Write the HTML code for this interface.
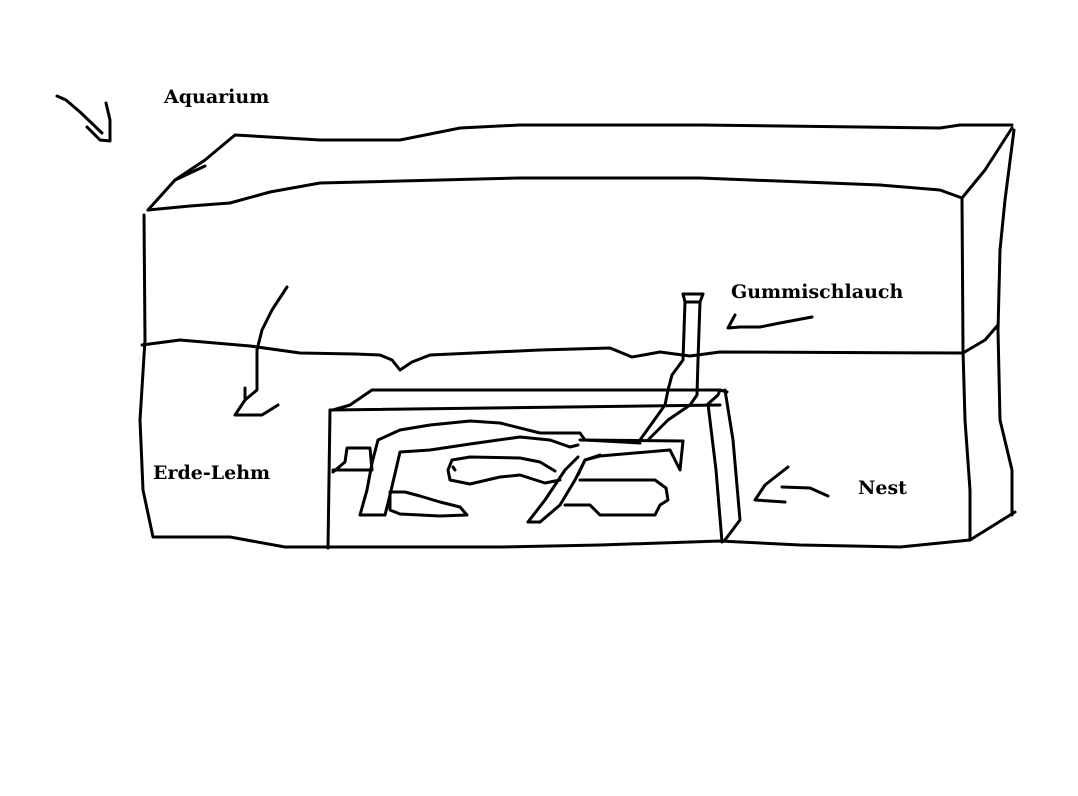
<!DOCTYPE html>
<html><head><meta charset="utf-8"><style>
html,body{margin:0;padding:0;background:#fff;}
svg{display:block}
text{font-family:"DejaVu Serif","Liberation Serif",serif;font-weight:bold;font-size:19px;fill:#000}
</style></head><body>
<svg width="1078" height="796" viewBox="0 0 1078 796" fill="none" stroke="#000" stroke-width="3" stroke-linecap="round" stroke-linejoin="round">
<rect x="0" y="0" width="1078" height="796" fill="#fff" stroke="none"/>
<text x="164" y="103" stroke="none">Aquarium</text>
<text x="731" y="298" stroke="none">Gummischlauch</text>
<text x="153" y="479" stroke="none">Erde-Lehm</text>
<text x="858" y="494" stroke="none">Nest</text>
<!-- top-left arrow -->
<polyline points="57,96 66,100 80,112 102,133"/>
<polyline points="87,127 100,140 110,141 110,120 106,103"/>
<!-- tank -->
<polyline points="148,210 190,206 230,203 270,192 320,183 520,178 700,178 880,185 940,190 962,198"/>
<polyline points="148,210 175,180 205,160 235,135 320,140 400,140 460,128 520,125 700,125 940,128 960,125 1012,125"/>
<polyline points="175,180 205,166"/>
<polyline points="962,198 985,170 1012,128"/>
<polyline points="1014,130 1005,200 1000,250 998,330 1000,420 1012,470 1012,515"/>
<polyline points="962,198 963,350 965,420 970,490 970,540"/>
<polyline points="144,215 145,340 140,420 143,490 153,537 230,537 285,547 500,547 600,545 720,541 800,545 900,547 970,540 1015,512"/>
<polyline points="142,345 180,340 250,346 300,353 355,354 380,355 392,360 400,370 412,362 430,355 540,350 610,348 632,357 660,352 690,356 720,352 963,353 985,340 998,325"/>
<!-- erde arrow -->
<polyline points="287,287 272,310 262,330 257,350 257,390 245,400 235,415 262,415 278,405"/>
<polyline points="245,398 245,388"/>
<!-- gummi arrow -->
<polyline points="812,317 780,323 760,327 740,327 728,328 735,315"/>
<!-- nest arrow -->
<polyline points="788,467 765,485 755,500 785,502"/>
<polyline points="782,487 810,488 828,496"/>
<!-- nest box -->
<polyline points="333,410 350,405 372,390 720,390"/>
<polyline points="330,410 720,405"/>
<polyline points="330,410 328,548"/>
<polyline points="708,404 718,395 720,390 727,392"/>
<polyline points="708,404 716,470 722,542"/>
<polyline points="725,390 733,440 740,520 725,540"/>
<!-- tube -->
<polyline points="683,294 685,302 683,360 672,375 668,390 665,405 640,440"/>
<polyline points="703,294 700,302 698,360 697,395 690,405 668,420 648,440"/>
<polyline points="683,294 703,294"/>
<polyline points="685,302 700,302"/>
<!-- tunnels -->
<polyline points="333,472 345,462 347,448 370,448 372,470 333,470"/>
<polyline points="360,515 367,490 372,463 378,440 400,430 430,425 470,421 500,423 540,433 580,433 585,440 640,443"/>
<polyline points="385,515 390,495 397,465 400,452 430,450 470,444 520,437 550,440 570,447 578,445"/>
<polyline points="360,515 385,515"/>
<polyline points="390,492 405,492 420,496 440,502 460,507 467,515 440,516 400,514 390,510 390,492"/>
<polyline points="580,440 683,441 680,470 670,450 600,456 585,460 578,475"/>
<polyline points="555,471 540,462 520,458 470,457 452,460 448,470 450,480 470,484 500,477 520,475 545,483 560,480"/>
<polyline points="528,522 545,500 565,470 578,457"/>
<polyline points="540,522 560,505 575,480 585,460 600,455"/>
<polyline points="528,522 540,522"/>
<polyline points="565,505 590,505 600,515 655,515 660,505 668,500 666,488 655,480 580,480"/>
<polyline points="453,467 455,470"/>
</svg>
</body></html>
